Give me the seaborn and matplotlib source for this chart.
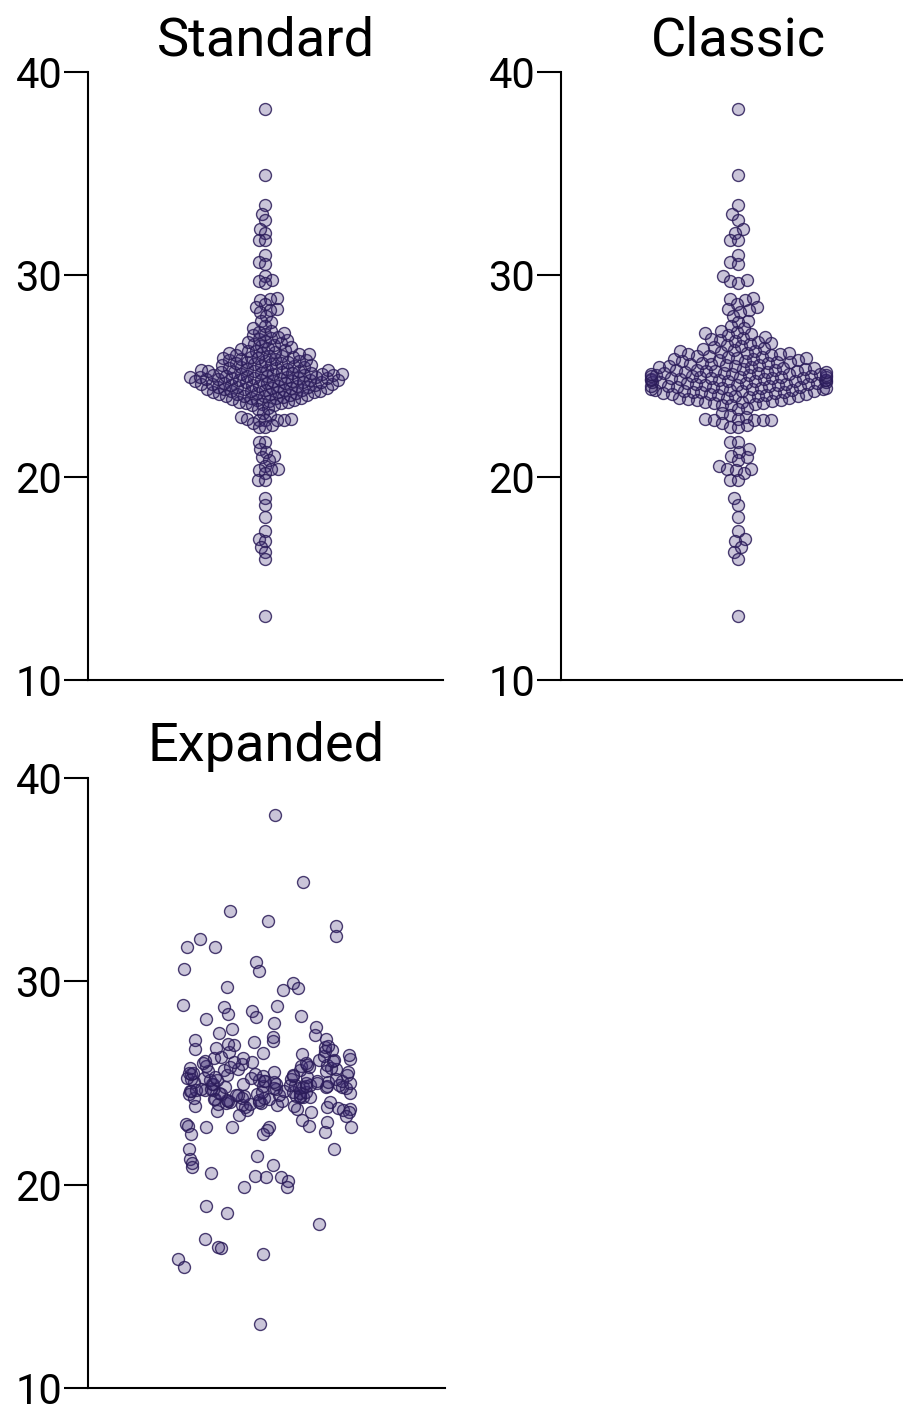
import numpy as np
import matplotlib
matplotlib.use("Agg")
import matplotlib.pyplot as plt
import seaborn as sns

# --- Data (same values in all three panels) ---
upper_tail = [38.16, 34.90, 33.45, 32.98, 32.70, 32.25, 32.07, 31.71, 31.70,
              30.97, 30.63, 30.53, 29.94, 29.72, 29.69, 29.57, 28.84, 28.79,
              28.74, 28.54, 28.41, 28.29, 28.24, 28.16, 27.96, 27.73, 27.65]

core = [23.62, 23.66, 23.69, 23.71, 23.74, 23.78, 23.81, 23.84, 23.86, 23.89,
        23.91, 23.93, 23.97, 23.99, 24.01, 24.03, 24.05, 24.08, 24.09, 24.11,
        24.12, 24.15, 24.17, 24.19, 24.20, 24.22, 24.24, 24.26, 24.28, 24.29,
        24.31, 24.33, 24.34, 24.36, 24.38, 24.40, 24.41, 24.43, 24.45, 24.47,
        24.48, 24.50, 24.52, 24.53, 24.55, 24.57, 24.58, 24.59, 24.61, 24.62,
        24.64, 24.65, 24.67, 24.69, 24.70, 24.71, 24.73, 24.74, 24.76, 24.78,
        24.79, 24.80, 24.82, 24.83, 24.85, 24.86, 24.88, 24.89, 24.90, 24.91,
        24.93, 24.94, 24.96, 24.97, 24.99, 25.00, 25.02, 25.03, 25.05, 25.06,
        25.08, 25.09, 25.10, 25.12, 25.13, 25.15, 25.17, 25.18, 25.21, 25.22,
        25.24, 25.26, 25.27, 25.29, 25.30, 25.32, 25.35, 25.37, 25.39, 25.41,
        25.43, 25.46, 25.48, 25.51, 25.54, 25.56, 25.59, 25.61, 25.63, 25.66,
        25.68, 25.70, 25.73, 25.75, 25.78, 25.81, 25.83, 25.86, 25.89, 25.90,
        25.93, 25.96, 25.98, 26.01, 26.04, 26.07, 26.09, 26.12, 26.15, 26.18,
        26.21, 26.24, 26.28, 26.31, 26.36, 26.42, 26.47, 26.53, 26.58, 26.61,
        26.67, 26.72, 26.78, 26.84, 26.89, 26.93, 27.01, 27.06, 27.12, 27.17,
        27.24, 27.35, 27.48]

lower_tail = [23.57, 23.57, 23.41, 23.36, 23.16, 23.08, 23.00, 22.88, 22.88,
              22.83, 22.83, 22.83, 22.83, 22.67, 22.58, 22.50, 22.47, 21.76,
              21.73, 21.39, 21.27, 21.06, 20.99, 20.86, 20.58, 20.41, 20.40,
              20.36, 20.20, 19.87, 19.87, 18.97, 18.62, 18.06, 17.35, 16.95,
              16.88, 16.57, 16.32, 15.96, 13.16]

values = upper_tail + core + lower_tail

panel_titles = ['Standard', 'Classic', 'Expanded']
y_ticks = [10, 20, 30, 40]

# --- Styling ---
sns.set_style("ticks", {'axes.edgecolor': 'black', 'text.color': 'black',
                        'xtick.color': 'black', 'ytick.color': 'black'})
plt.rcParams['font.family'] = ['Roboto', 'DejaVu Sans']

face_rgba = (0.24, 0.17, 0.45, 0.27)
edge_rgba = (0.17, 0.11, 0.35, 0.85)
marker_pt = 8.6   # drawn marker diameter (points)

W, H = 904, 1412
fig = plt.figure(figsize=(W / 100, H / 100), dpi=100)

def px_axes(left, top, width, bottom):
    return fig.add_axes([left / W, 1 - bottom / H, width / W, (bottom - top) / H])

ax_std = px_axes(88, 72, 355, 680)
ax_cls = px_axes(561, 72, 355, 680)
ax_exp = px_axes(88, 778, 357, 1388)
axes = [ax_std, ax_cls, ax_exp]

for ax in axes:
    ax.set_xlim(-0.81, 0.81)
    ax.set_ylim(10, 40)

np.random.seed(3)

# swarm layout sizes (collision diameter); markers are drawn bigger afterwards
sns.swarmplot(y=values, ax=ax_std, size=4.8, linewidth=0, warn_thresh=1)
sns.swarmplot(y=values, ax=ax_cls, size=6.0, linewidth=0, warn_thresh=1)
sns.stripplot(y=values, ax=ax_exp, jitter=0.4, size=marker_pt, linewidth=0)

for ax, title in zip(axes, panel_titles):
    ax.set_xlim(-0.81, 0.81)
    ax.set_ylim(10, 40)
    ax.set_yticks(y_ticks)
    ax.set_xticks([])
    ax.set_title(title, fontsize=39, pad=12)
    ax.tick_params(axis='y', length=17, width=1.5, pad=1.5, labelsize=30)
    for side in ['top', 'right']:
        ax.spines[side].set_visible(False)
    for side in ['left', 'bottom']:
        ax.spines[side].set_linewidth(1.5)

# run the beeswarm layout once, then redraw the laid-out points at full size
fig.canvas.draw()
for ax in axes:
    placed = [c.get_offsets().copy() for c in ax.collections]
    for c in list(ax.collections):
        c.remove()
    for xy in placed:
        ax.scatter(xy[:, 0], xy[:, 1], s=marker_pt ** 2, facecolor=face_rgba,
                   edgecolor=edge_rgba, linewidth=1.0, clip_on=False, zorder=3)
    ax.set_xlim(-0.81, 0.81)
    ax.set_ylim(10, 40)

fig.savefig('out.png', dpi=100, facecolor='white')
